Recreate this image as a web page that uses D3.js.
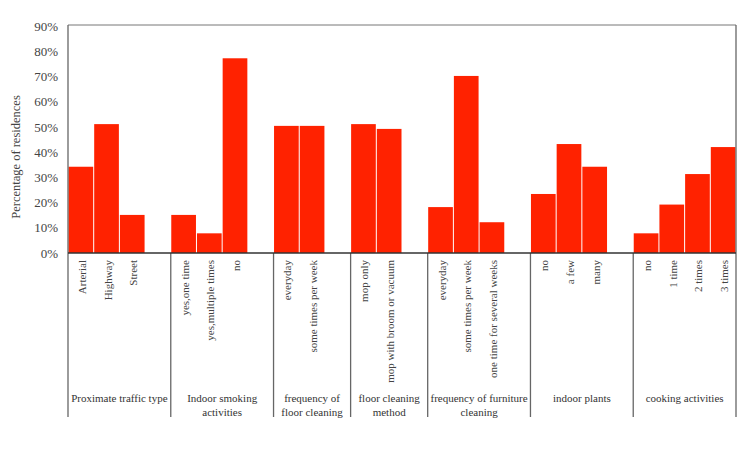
<!DOCTYPE html>
<html>
<head>
<meta charset="utf-8">
<script src="https://cdn.jsdelivr.net/npm/d3@7"></script>
<style>
  body { margin: 0; background: #fff; }
  text { font-family: "Liberation Serif", "Times New Roman", serif; }
</style>
</head>
<body>
<svg></svg>
<script>
// Group names (each line of a label on its own)
const groupLabels = [
    ["Proximate traffic type"],
    ["Indoor smoking", "activities"],
    ["frequency of", "floor cleaning"],
    ["floor cleaning", "method"],
    ["frequency of furniture", "cleaning"],
    ["indoor plants"],
    ["cooking activities"]
];

// Categories of each group
const categories = [
    ["Arterial", "Highway", "Street"],
    ["yes,one time", "yes,multiple times", "no"],
    ["everyday", "some times per week"],
    ["mop only", "mop with broom or vacuum"],
    ["everyday", "some times per week", "one time for several weeks"],
    ["no", "a few", "many"],
    ["no", "1 time", "2 times", "3 times"]
];

// Share of residences per category
const values = [
    [0.342, 0.511, 0.151],
    [0.151, 0.078, 0.772],
    [0.504, 0.504],
    [0.511, 0.492],
    [0.182, 0.702, 0.122],
    [0.234, 0.432, 0.342],
    [0.078, 0.192, 0.313, 0.420]
];

const yTicks = [0, 0.1, 0.2, 0.3, 0.4, 0.5, 0.6, 0.7, 0.8, 0.9];

// SVG dimensions
const width = 750;
const height = 450;
const plotLeft = 68, plotRight = 736, plotTop = 25, plotBottom = 253, labelBottom = 417;

// Slots: one per bar, plus an empty slot after each group but the last
let slots = [];
let bars = [];
let groupStarts = [];
categories.forEach((cats, g) => {
    groupStarts.push("g" + g + "c0");
    cats.forEach((c, i) => {
        const key = "g" + g + "c" + i;
        slots.push(key);
        bars.push({key: key, label: c, value: values[g][i]});
    });
    if (g < categories.length - 1) slots.push("gap" + g);
});

// Scales
const xScale = d3.scaleBand()
    .domain(slots)
    .range([plotLeft, plotRight])
    .paddingInner(0)
    .paddingOuter(0);

const yScale = d3.scaleLinear()
    .domain([0, 0.9])
    .range([plotBottom, plotTop + 1]);

const svg = d3.select("svg")
    .attr("width", width)
    .attr("height", height);

// Bars
svg.selectAll("rect.bar")
    .data(bars)
    .enter()
    .append("rect")
    .attr("class", "bar")
    .attr("x", d => xScale(d.key) + 0.5)
    .attr("y", d => yScale(d.value))
    .attr("width", xScale.bandwidth() - 1)
    .attr("height", d => plotBottom - yScale(d.value))
    .attr("fill", "#ff2200");

// Frame top
svg.append("line")
    .attr("x1", plotLeft).attr("x2", plotRight)
    .attr("y1", plotTop).attr("y2", plotTop)
    .attr("stroke", "#777").attr("stroke-width", 1);

// Y axis
const yAxis = d3.axisLeft(yScale)
    .tickValues(yTicks)
    .tickSize(0)
    .tickPadding(10)
    .tickFormat(d3.format(".0%"));

const gy = svg.append("g")
    .attr("transform", "translate(" + plotLeft + ",0)")
    .call(yAxis);
gy.select(".domain").remove();
gy.selectAll("text")
    .attr("fill", "#444")
    .style("font-size", "13px");

svg.append("text")
    .attr("transform", "translate(20,157) rotate(-90)")
    .attr("text-anchor", "middle")
    .attr("fill", "#444")
    .style("font-size", "12.5px")
    .text("Percentage of residences");

// Group separators (left edge of each group plus right edge)
const sepX = groupStarts.map(k => xScale(k)).concat([plotRight]);

svg.selectAll("line.sep")
    .data(sepX)
    .enter()
    .append("line")
    .attr("class", "sep")
    .attr("x1", d => d).attr("x2", d => d)
    .attr("y1", (d, i) => (i === 0 || i === sepX.length - 1) ? plotTop : plotBottom)
    .attr("y2", labelBottom)
    .attr("stroke", "#666")
    .attr("stroke-width", 1.3);

// Baseline
svg.append("line")
    .attr("x1", plotLeft).attr("x2", plotRight)
    .attr("y1", plotBottom).attr("y2", plotBottom)
    .attr("stroke", "#333").attr("stroke-width", 1.5);

// Category labels, rotated
svg.selectAll("text.cat")
    .data(bars)
    .enter()
    .append("text")
    .attr("class", "cat")
    .attr("transform", d => "translate(" + (xScale(d.key) + xScale.bandwidth() / 2 + 5) + "," + (plotBottom + 7) + ") rotate(-90)")
    .attr("text-anchor", "end")
    .attr("fill", "#444")
    .style("font-size", "11px")
    .text(d => d.label);

// Group labels
groupLabels.forEach((lines, g) => {
    const cx = (sepX[g] + sepX[g + 1]) / 2;
    const t = svg.append("text")
        .attr("text-anchor", "middle")
        .attr("fill", "#333")
        .style("font-size", "11px");
    lines.forEach((ln, i) => {
        t.append("tspan")
            .attr("x", cx)
            .attr("y", 402 + i * 14)
            .text(ln);
    });
});
</script>
</body>
</html>
